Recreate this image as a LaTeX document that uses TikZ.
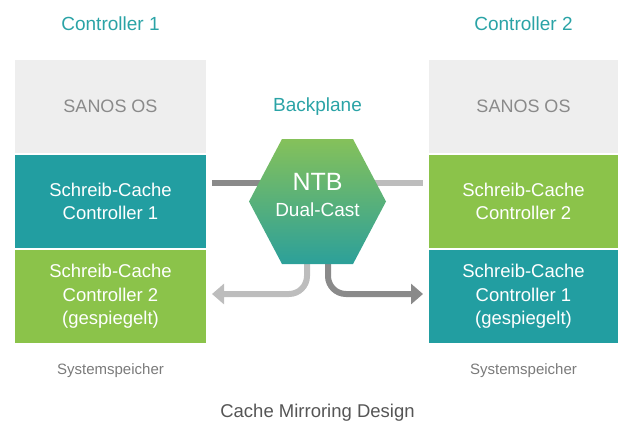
\documentclass[tikz,border=0pt]{standalone}
\usepackage{fontspec}
\setmainfont{Liberation Sans}
\usetikzlibrary{arrows.meta}
\definecolor{tealc}{HTML}{229EA1}
\definecolor{greenc}{HTML}{8BC34A}
\definecolor{boxgray}{HTML}{EEEEEE}
\definecolor{osgray}{HTML}{8A8A8A}
\definecolor{titleteal}{HTML}{2AA3A6}
\definecolor{hextop}{HTML}{85C15A}
\definecolor{hexbot}{HTML}{2CA09A}
\definecolor{darkline}{HTML}{8A8A8A}
\definecolor{lightline}{HTML}{BDBDBD}
\definecolor{capgray}{HTML}{7A7A7A}
\definecolor{titlegray}{HTML}{555555}
\tikzset{
  membox/.style={inner sep=0pt, minimum height=93pt, align=center, text=white,
    font=\fontsize{18.5}{23.5}\selectfont},
  leftcol/.style={minimum width=191pt},
  rightcol/.style={minimum width=189pt},
  ostext/.style={text=osgray, font=\fontsize{18}{23.5}\selectfont},
  heading/.style={text=titleteal, font=\fontsize{19}{22}\selectfont},
  caption/.style={text=capgray, font=\fontsize{15}{18}\selectfont},
  conn/.style={line width=6pt},
  tip/.style={-{Triangle[width=20pt,length=12pt]}},
}
\begin{document}
\begin{tikzpicture}[x=1pt,y=-1pt]
\useasboundingbox (0,0) rectangle (618,424);
% headings
\node[heading] (h1) at (110.5,24) {Controller 1};
\node[heading] (h2) at (523.5,24) {Controller 2};
\node[heading] (bp) at (317.5,107) {Backplane};
% left column
\node[membox,leftcol,fill=boxgray,ostext] (os1) at (110.5,106.5) {SANOS OS};
\node[membox,leftcol,fill=tealc] (wc1) at (110.5,201.5) {Schreib-Cache\\Controller 1};
\node[membox,leftcol,fill=greenc] (mc1) at (110.5,296.5) {Schreib-Cache\\Controller 2\\(gespiegelt)};
% right column
\node[membox,rightcol,fill=boxgray,ostext] (os2) at (523.5,106.5) {SANOS OS};
\node[membox,rightcol,fill=greenc] (wc2) at (523.5,201.5) {Schreib-Cache\\Controller 2};
\node[membox,rightcol,fill=tealc] (mc2) at (523.5,296.5) {Schreib-Cache\\Controller 1\\(gespiegelt)};
% captions
\node[caption] (s1) at (110.5,371) {Systemspeicher};
\node[caption] (s2) at (523.5,371) {Systemspeicher};
\node[text=titlegray, font=\fontsize{18.5}{22}\selectfont] (title) at (317.5,413) {Cache Mirroring Design};
% hexagon corners
\coordinate (ha) at (282,139);
\coordinate (hb) at (353,139);
\coordinate (hc) at (386,201.5);
\coordinate (hd) at (353,264);
\coordinate (he) at (282,264);
\coordinate (hf) at (249,201.5);
\coordinate (hcen) at (317.5,201.5);
% connector ends
\coordinate (l1) at (212,183);
\coordinate (r1) at (423,183);
\coordinate (la) at (307,250);
\coordinate (lb) at (212,294);
\coordinate (ra) at (328,250);
\coordinate (rb) at (423,294);
% connectors (behind hexagon)
\draw[conn,darkline] (l1) -- (l1 -| hcen);
\draw[conn,lightline] (l1 -| hcen) -- (r1);
\draw[conn,lightline,tip,rounded corners=18pt] (la) |- (lb);
\draw[conn,darkline,tip,rounded corners=18pt] (ra) |- (rb);
% hexagon
\shade[top color=hextop, bottom color=hexbot] (ha) -- (hb) -- (hc) -- (hd) -- (he) -- (hf) -- cycle;
\node[text=white, align=center, inner sep=0pt, font=\fontsize{19}{26}\selectfont] (ntb) at (317.5,195) {{\fontsize{25}{26}\selectfont NTB}\\Dual-Cast};
\end{tikzpicture}
\end{document}
